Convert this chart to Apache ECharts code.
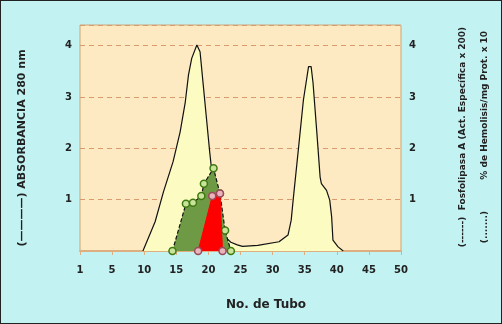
<!DOCTYPE html>
<html>
<head>
<meta charset="utf-8">
<script src="https://cdn.jsdelivr.net/npm/echarts@6/dist/echarts.min.js"></script>
<style>
  html, body { margin: 0; padding: 0; }
  #wrap { position: relative; width: 502px; height: 324px; }
  #chart { position: absolute; left: 0; top: 0; width: 502px; height: 324px; background: #c3f2f2; }
  #frame { position: absolute; left: 0; top: 0; width: 502px; height: 324px; box-sizing: border-box; border: 1px solid #222; pointer-events: none; }
</style>
</head>
<body>
<div id="wrap"><div id="chart"></div><div id="frame"></div></div>
<script>
  // absorbancia 280 nm (linea continua)
  var absTubo = [9.8, 11.7, 13.0, 14.5, 15.6, 16.4, 16.9, 17.4, 18.2, 18.7, 19.2, 19.7, 20.2, 20.7, 21.6, 22.3, 22.8, 23.5, 24.5, 25.3, 27.7, 31.0, 32.4, 32.9, 33.2, 34.0, 34.8, 35.6, 36.0, 36.3, 36.9, 37.4, 37.6, 38.4, 38.9, 39.2, 39.4, 40.2, 41.0];
  var absVal  = [0, 0.57, 1.15, 1.74, 2.32, 2.9, 3.43, 3.75, 4.01, 3.88, 3.23, 2.58, 1.93, 1.35, 1.12, 0.45, 0.25, 0.17, 0.12, 0.09, 0.11, 0.18, 0.31, 0.6, 0.99, 1.96, 2.94, 3.59, 3.59, 3.27, 2.29, 1.44, 1.31, 1.18, 0.99, 0.66, 0.21, 0.08, 0];

  // fosfolipasa A (act. especifica x 200)
  var fosTubo = [14.4, 16.5, 17.6, 18.9, 19.3, 20.8, 21.8, 22.6, 23.5];
  var fosVal  = [0, 0.92, 0.94, 1.07, 1.31, 1.61, 1.12, 0.4, 0];

  // % hemolisis / mg prot x 10
  var hemTubo = [18.4, 20.6, 21.8, 22.2];
  var hemVal  = [0, 1.07, 1.12, 0];

  var xTicks = [0, 5, 10, 15, 20, 25, 30, 35, 40, 45, 50];
  var yTicks = [1, 2, 3, 4];

  function pairs(xs, ys) {
    return xs.map(function (x, i) { return [x, ys[i]]; });
  }

  var font = '"DejaVu Sans", Verdana, sans-serif';
  var labelStyle = { color: '#222', fontWeight: 'bold', fontSize: 10, fontFamily: font };

  function yAxisFor(pos) {
    return {
      type: 'value', position: pos, min: 0, max: 4.4, interval: 1,
      axisLine: { show: false }, axisTick: { show: false },
      axisLabel: Object.assign({
        margin: 8,
        formatter: function (v) { return yTicks.indexOf(v) >= 0 ? String(v) : ''; }
      }, labelStyle),
      splitLine: pos === 'left'
        ? { show: true, lineStyle: { color: '#d99a6c', type: [5, 4], width: 1 } }
        : { show: false }
    };
  }

  var chart = echarts.init(document.getElementById('chart'));
  chart.setOption({
    animation: false,
    grid: {
      left: 80, right: 101, top: 25, bottom: 73, show: true,
      backgroundColor: '#fde9c2', borderColor: '#c9a77a', borderWidth: 1
    },
    xAxis: {
      type: 'value', min: 0, max: 50, interval: 5,
      axisLine: { lineStyle: { color: '#dcae80', width: 2 } },
      axisTick: { lineStyle: { color: '#dcae80' }, length: 4 },
      axisLabel: Object.assign({
        margin: 14,
        formatter: function (v) { return xTicks.indexOf(v) < 0 ? '' : (v === 0 ? '1' : String(v)); }
      }, labelStyle),
      splitLine: { show: false }
    },
    yAxis: [yAxisFor('left'), yAxisFor('right')],
    series: [
      {
        type: 'line', data: pairs(absTubo, absVal), showSymbol: false, symbol: 'none',
        lineStyle: { color: '#111', width: 1.2 },
        areaStyle: { color: '#fbfbc2', opacity: 1 }, z: 2
      },
      {
        type: 'line', data: pairs(fosTubo, fosVal), symbol: 'circle', symbolSize: 7,
        lineStyle: { color: '#111', width: 1.2, type: [4, 2] },
        itemStyle: { color: '#c9e39a', borderColor: '#3f7a12', borderWidth: 1.5 },
        areaStyle: { color: '#6f9a45', opacity: 1 }, z: 3
      },
      {
        type: 'line', data: pairs(hemTubo, hemVal), symbol: 'circle', symbolSize: 7,
        lineStyle: { color: '#ff0000', width: 1 },
        itemStyle: { color: '#eab4bc', borderColor: '#9a4a5a', borderWidth: 1.5 },
        areaStyle: { color: '#ff0000', opacity: 1 }, z: 4
      }
    ],
    graphic: [
      {
        type: 'text', x: 22, y: 148, rotation: Math.PI / 2,
        style: { text: '(————) ABSORBANCIA 280 nm', fill: '#222', font: 'bold 11px ' + font, align: 'center', verticalAlign: 'middle' }
      },
      {
        type: 'text', x: 463, y: 137, rotation: Math.PI / 2,
        style: { text: '(------)  Fosfolipasa A (Act. Específica x 200)', fill: '#222', font: 'bold 9px ' + font, align: 'center', verticalAlign: 'middle' }
      },
      {
        type: 'text', x: 485, y: 137, rotation: Math.PI / 2,
        style: { text: '(.......)          % de Hemolisis/mg Prot. x 10', fill: '#222', font: 'bold 9px ' + font, align: 'center', verticalAlign: 'middle' }
      },
      {
        type: 'text', x: 266, y: 305,
        style: { text: 'No. de Tubo', fill: '#222', font: 'bold 12px ' + font, align: 'center', verticalAlign: 'middle' }
      }
    ]
  });
</script>
</body>
</html>
